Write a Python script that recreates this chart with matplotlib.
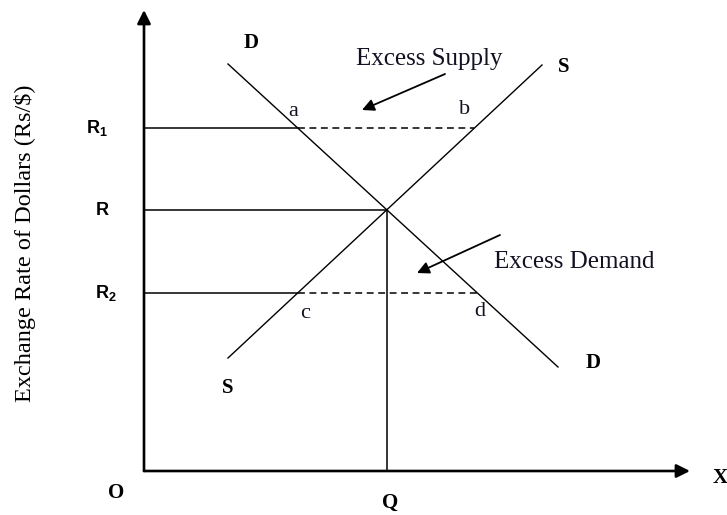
import numpy as np
import matplotlib.pyplot as plt

# demand / supply line end points (quantity of dollars on x, exchange rate on y)
demand_x = [8.4, 41.4]
demand_y = [40.7, 10.4]
supply_x = [8.4, 39.8]
supply_y = [11.3, 40.6]

# exchange rates above (R1) and below (R2) equilibrium
off_rates = [34.3, 17.8]
off_rate_names = [r'$\mathbf{R_1}$', r'$\mathbf{R_2}$']

plt.rcParams['mathtext.fontset'] = 'custom'
plt.rcParams['mathtext.bf'] = 'Liberation Sans:bold'
plt.rcParams['mathtext.rm'] = 'Liberation Sans'


def x_on(xs, ys, y):
    # x position on a straight line for a given y
    order = np.argsort(ys)
    return np.interp(y, np.array(ys)[order], np.array(xs)[order])


# equilibrium point (intersection of D and S)
md = (demand_y[1] - demand_y[0]) / (demand_x[1] - demand_x[0])
ms = (supply_y[1] - supply_y[0]) / (supply_x[1] - supply_x[0])
eq_q = (supply_y[0] - demand_y[0] + md * demand_x[0] - ms * supply_x[0]) / (md - ms)
eq_r = demand_y[0] + md * (eq_q - demand_x[0])

serif = ['Liberation Serif', 'DejaVu Serif']
sans = ['Liberation Sans', 'DejaVu Sans']
ink = '#111122'

fig = plt.figure(figsize=(7.27, 5.15), dpi=100)
ax = fig.add_axes([0, 0, 1, 1])
ax.set_xlim(-14.4, 58.3)
ax.set_ylim(-4.4, 47.1)
ax.axis('off')

# axes with arrows
ax.annotate('', xy=(0, 46.1), xytext=(0, 0),
            arrowprops=dict(arrowstyle='-|>', lw=1.9, color='black', mutation_scale=20,
                            shrinkA=0, shrinkB=0))
ax.annotate('', xy=(54.6, 0), xytext=(0, 0),
            arrowprops=dict(arrowstyle='-|>', lw=1.9, color='black', mutation_scale=20,
                            shrinkA=0, shrinkB=0))

# demand and supply curves
ax.plot(demand_x, demand_y, color='black', lw=1.0)
ax.plot(supply_x, supply_y, color='black', lw=1.0)

# equilibrium rate R and quantity Q
ax.plot([0, eq_q], [eq_r, eq_r], color='black', lw=1.1)
ax.plot([eq_q, eq_q], [0, eq_r], color='black', lw=1.1)

# R1 and R2 lines: solid to the first curve, dashed across the gap
for r in off_rates:
    xd = x_on(demand_x, demand_y, r)
    xs = x_on(supply_x, supply_y, r)
    x0, x1 = min(xd, xs), max(xd, xs)
    ax.plot([0, x0], [r, r], color='black', lw=1.1)
    ax.plot([x0, x1], [r, r], color='black', lw=1.1, ls=(0, (4.5, 3)))

# point letters
pa = x_on(demand_x, demand_y, off_rates[0])
pb = x_on(supply_x, supply_y, off_rates[0])
pc = x_on(supply_x, supply_y, off_rates[1])
pd = x_on(demand_x, demand_y, off_rates[1])
for name, pt, off in [('a', (pa, off_rates[0]), (-5, 16)),
                      ('b', (pb, off_rates[0]), (-10, 18)),
                      ('c', (pc, off_rates[1]), (7, -20)),
                      ('d', (pd, off_rates[1]), (2, -19))]:
    ax.annotate(name, xy=pt, xytext=off, textcoords='offset pixels',
                ha='center', va='center', fontsize=16, family=serif, color=ink)

# curve labels
curve_lbl = dict(textcoords='offset pixels', ha='center', va='center',
                 fontsize=15, fontweight='bold', family=serif, color='black')
ax.annotate('D', xy=(demand_x[0], demand_y[0]), xytext=(23, 21), **curve_lbl)
ax.annotate('D', xy=(demand_x[1], demand_y[1]), xytext=(35, 4), **curve_lbl)
ax.annotate('S', xy=(supply_x[1], supply_y[1]), xytext=(22, -2), **curve_lbl)
ax.annotate('S', xy=(supply_x[0], supply_y[0]), xytext=(0, -30), **curve_lbl)

# rate labels on the left
for name, r, xl in [(off_rate_names[0], off_rates[0], -4.7),
                    (r'$\mathbf{R}$', eq_r, -4.2),
                    (off_rate_names[1], off_rates[1], -3.8)]:
    ax.text(xl, r, name, ha='center', va='center', fontsize=13)

axis_lbl = dict(textcoords='offset pixels', ha='center', va='center',
                fontsize=15, fontweight='bold', family=serif)
ax.annotate('O', xy=(0, 0), xytext=(-28, -22), **axis_lbl)
ax.annotate('Q', xy=(eq_q, 0), xytext=(3, -32), **axis_lbl)
ax.annotate('X', xy=(54.6, 0), xytext=(30, -7), **axis_lbl)

ax.text(-11.9, 22.8, 'Exchange Rate of Dollars (Rs/$)', rotation=90,
        ha='center', va='center', fontsize=17.5, family=serif)

# excess supply / demand notes
ax.annotate('', xy=(21.8, 36.1), xytext=(30.1, 39.7),
            arrowprops=dict(arrowstyle='-|>', lw=1.3, color='black', mutation_scale=18,
                            shrinkA=0, shrinkB=0))
ax.text(28.5, 41.2, 'Excess Supply', ha='center', va='center', fontsize=18,
        family=serif, color=ink)
ax.annotate('', xy=(27.3, 19.8), xytext=(35.6, 23.6),
            arrowprops=dict(arrowstyle='-|>', lw=1.3, color='black', mutation_scale=18,
                            shrinkA=0, shrinkB=0))
ax.text(43.0, 20.9, 'Excess Demand', ha='center', va='center', fontsize=18,
        family=serif, color=ink)

fig.savefig('out.png', dpi=100)
